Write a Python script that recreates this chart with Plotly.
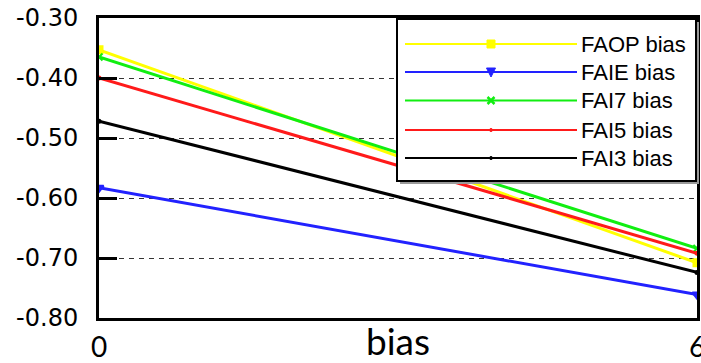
import plotly.graph_objects as go

# ---- data ----
x_vals = [0, 6]
series_names = ["FAOP bias", "FAIE bias", "FAI7 bias", "FAI5 bias", "FAI3 bias"]
faop = [-0.353, -0.708]
faie = [-0.583, -0.761]
fai7 = [-0.365, -0.684]
fai5 = [-0.400, -0.692]
fai3 = [-0.472, -0.724]
y_tick_vals = [-0.80, -0.70, -0.60, -0.50, -0.40, -0.30]
y_tick_text = ["-0.80", "-0.70", "-0.60", "-0.50", "-0.40", "-0.30"]
x_tick_vals = [0, 6]
x_tick_text = ["0", "6"]
x_title = "bias"

colors = ["#ffff00", "#2222ff", "#11ee11", "#ff1a1a", "#000000"]
symbols = ["square", "triangle-down", "x-thin", "circle", "circle"]
msizes = [7, 8, 7, 3, 3]
series = [faop, faie, fai7, fai5, fai3]

W, H = 701, 363
L, R, T, B = 99, 4, 18, 45
PW, PH = W - L - R, H - T - B

fig = go.Figure()
for name, ys, c, s, ms in zip(series_names, series, colors, symbols, msizes):
    fig.add_trace(go.Scatter(
        x=x_vals, y=ys, name=name, mode="lines+markers",
        line=dict(color=c, width=3),
        marker=dict(symbol=s, size=ms, color=c, line=dict(color=c, width=2)),
        showlegend=False, cliponaxis=True,
    ))

def xp(px):
    return (px - L) / PW

def yp(py):
    return (H - B - py) / PH

shapes = []
annotations = []
# legend box with shadow
bx0, by0, bx1, by1 = 397, 19, 696, 181
shapes.append(dict(type="rect", xref="paper", yref="paper", layer="above",
                   x0=xp(bx0 + 3), x1=xp(bx1 + 3), y0=yp(by0 + 3), y1=yp(by1 + 3),
                   line=dict(width=0), fillcolor="#9a9a9a"))
shapes.append(dict(type="rect", xref="paper", yref="paper", layer="above",
                   x0=xp(bx0), x1=xp(bx1), y0=yp(by0), y1=yp(by1),
                   line=dict(color="#000000", width=2), fillcolor="#ffffff"))
row_y = [44, 72, 100.5, 130, 158]
lx0, lx1, mx, tx = 405, 577, 491, 579
for i, (name, c) in enumerate(zip(series_names, colors)):
    yy = row_y[i]
    shapes.append(dict(type="line", xref="paper", yref="paper", layer="above",
                       x0=xp(lx0), x1=xp(lx1), y0=yp(yy), y1=yp(yy),
                       line=dict(color=c, width=2)))
    if i == 0:
        shapes.append(dict(type="rect", xref="paper", yref="paper", layer="above",
                           x0=xp(mx - 4), x1=xp(mx + 4), y0=yp(yy - 4), y1=yp(yy + 4),
                           line=dict(color=c, width=1), fillcolor=c))
    elif i == 1:
        path = "M {} {} L {} {} L {} {} Z".format(
            xp(mx - 4.5), yp(yy - 4), xp(mx + 4.5), yp(yy - 4), xp(mx), yp(yy + 5))
        shapes.append(dict(type="path", xref="paper", yref="paper", layer="above",
                           path=path, line=dict(color=c, width=1), fillcolor=c))
    elif i == 2:
        for sgn in (1, -1):
            shapes.append(dict(type="line", xref="paper", yref="paper", layer="above",
                               x0=xp(mx - 3.5), x1=xp(mx + 3.5),
                               y0=yp(yy - 3.5 * sgn), y1=yp(yy + 3.5 * sgn),
                               line=dict(color=c, width=2.5)))
    else:
        shapes.append(dict(type="circle", xref="paper", yref="paper", layer="above",
                           x0=xp(mx - 1.5), x1=xp(mx + 1.5), y0=yp(yy - 1.5), y1=yp(yy + 1.5),
                           line=dict(color=c, width=1), fillcolor=c))
    annotations.append(dict(xref="paper", yref="paper", x=xp(tx), y=yp(yy),
                            xanchor="left", yanchor="middle", showarrow=False,
                            text=name, font=dict(family="Liberation Sans", size=22, color="#000")))

fig.update_layout(
    width=W, height=H,
    margin=dict(l=L, r=R, t=T, b=B, pad=0, autoexpand=False),
    paper_bgcolor="#ffffff", plot_bgcolor="#ffffff",
    shapes=shapes, annotations=annotations,
    showlegend=False,
    xaxis=dict(
        range=[0, 6], tickvals=x_tick_vals, ticktext=x_tick_text,
        showgrid=False, zeroline=False, automargin=False,
        showline=True, linecolor="#000", linewidth=3, mirror=True,
        ticks="", tickfont=dict(family="Lato", size=28, color="#000"),
        ticklabelstandoff=2, ticklabeloverflow="allow",
        title=dict(text=x_title, font=dict(family="Lato", size=37, color="#000"), standoff=0),
    ),
    yaxis=dict(
        range=[-0.80, -0.30], tickvals=y_tick_vals, ticktext=y_tick_text,
        showgrid=True, gridcolor="#333333", gridwidth=1, griddash="5px,5px",
        zeroline=False, automargin=False,
        showline=True, linecolor="#000", linewidth=3, mirror=True,
        ticks="inside", ticklen=18, tickwidth=3, tickcolor="#000",
        tickfont=dict(family="DejaVu Sans", size=24, color="#000"),
        ticklabelstandoff=13,
    ),
)

fig.write_html(
    "out.html",
    config={"displayModeBar": False},
    post_script="document.body.style.margin='0';document.body.style.overflow='hidden';",
)
